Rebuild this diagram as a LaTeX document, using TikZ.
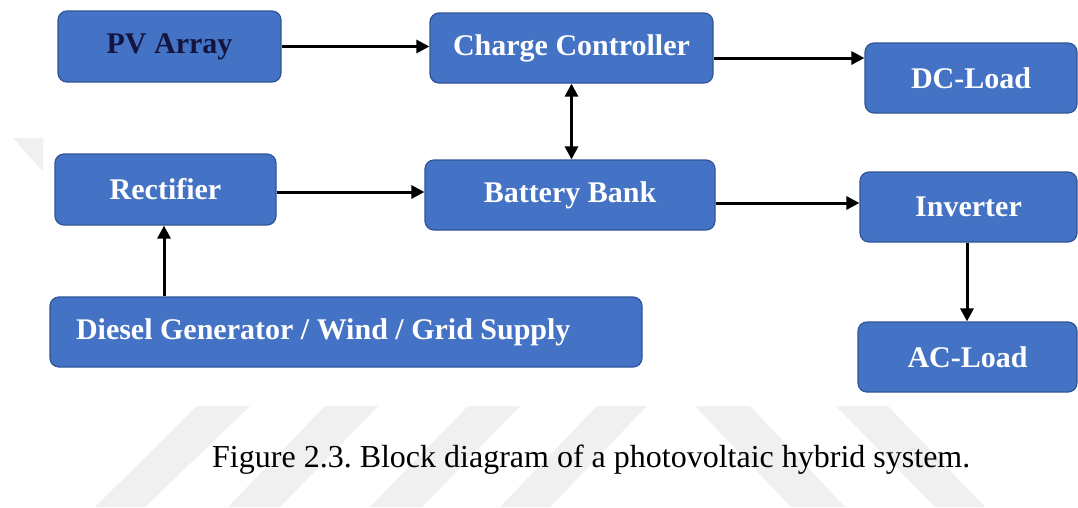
\documentclass[tikz,border=0pt]{standalone}
\usepackage{fontspec}
\setmainfont{Liberation Serif}
\usetikzlibrary{arrows.meta}
\frenchspacing
\definecolor{boxfill}{HTML}{4472C4}
\definecolor{boxline}{HTML}{2F5597}
\definecolor{pvtext}{HTML}{141440}
\definecolor{wm}{HTML}{F0F0F0}
\begin{document}
\begin{tikzpicture}[x=1pt,y=-1pt,
  blk/.style={draw=boxline, line width=1.2pt, fill=boxfill, rounded corners=9pt,
    inner sep=0pt, text=white, font=\fontsize{30}{36}\selectfont\bfseries},
  arr/.style={line width=3pt, -{Triangle[length=13pt,width=13pt]}},
  darr/.style={line width=3pt, {Triangle[length=13pt,width=13pt]}-{Triangle[length=13pt,width=13pt]}},
  wmark/.style={fill=wm, draw=none}
]
\useasboundingbox (0,0) rectangle (1078,507);
\fill[white] (0,0) rectangle (1078,507);
% watermark stripes
\fill[wmark] (197,406) -- (250,406) -- (145,507) -- (95,507) -- cycle;
\fill[wmark] (325,406) -- (378,406) -- (280,507) -- (228,507) -- cycle;
\fill[wmark] (468,406) -- (520,406) -- (422,507) -- (370,507) -- cycle;
\fill[wmark] (597,406) -- (647,406) -- (550,507) -- (500,507) -- cycle;
\fill[wmark] (695,406) -- (750,406) -- (845,507) -- (791,507) -- cycle;
\fill[wmark] (836,406) -- (888,406) -- (985,507) -- (935,507) -- cycle;
\fill[wmark] (13,138) -- (43,138) -- (43,172) -- cycle;

% blocks
\node[blk, minimum width=223pt, minimum height=71pt, text=pvtext] (pv) at (169.5,46.5) {PV Array};
\node[blk, minimum width=283pt, minimum height=70pt] (cc) at (571.5,48) {Charge Controller};
\node[blk, minimum width=212pt, minimum height=70pt] (dc) at (971,78) {DC-Load};
\node[blk, minimum width=221pt, minimum height=71pt] (rect) at (165.5,189.5) {Rectifier};
\node[blk, minimum width=290pt, minimum height=70pt] (bat) at (570,195) {Battery Bank};
\node[blk, minimum width=217pt, minimum height=70pt] (inv) at (968.5,207) {Inverter};
\node[blk, minimum width=592pt, minimum height=70pt, text width=540pt, align=left] (dg) at (346,332) {\spaceskip=0.25em\relax Diesel Generator / Wind / Grid Supply};
\node[blk, minimum width=219pt, minimum height=70pt] (ac) at (967.5,357) {AC-Load};

% helper coordinates
\coordinate (y58) at (0,58);
\coordinate (y192) at (0,192);
\coordinate (y203) at (0,203);
\coordinate (x164) at (164,0);
\coordinate (x967) at (967,0);

% connectors
\draw[arr] (pv.east) -- (pv.east -| cc.west);
\draw[arr] (cc.east |- y58) -- (dc.west |- y58);
\draw[darr] (cc.south) -- (cc.south |- bat.north);
\draw[arr] (rect.east |- y192) -- (bat.west |- y192);
\draw[arr] (bat.east |- y203) -- (inv.west |- y203);
\draw[arr] (dg.north -| x164) -- (rect.south -| x164);
\draw[arr] (inv.south -| x967) -- (ac.north -| x967);

% caption
\node[anchor=base west, inner sep=0pt, font=\fontsize{32}{38}\selectfont] (cap) at (212,467) {Figure 2.3. Block diagram of a photovoltaic hybrid system.};
\end{tikzpicture}
\end{document}
